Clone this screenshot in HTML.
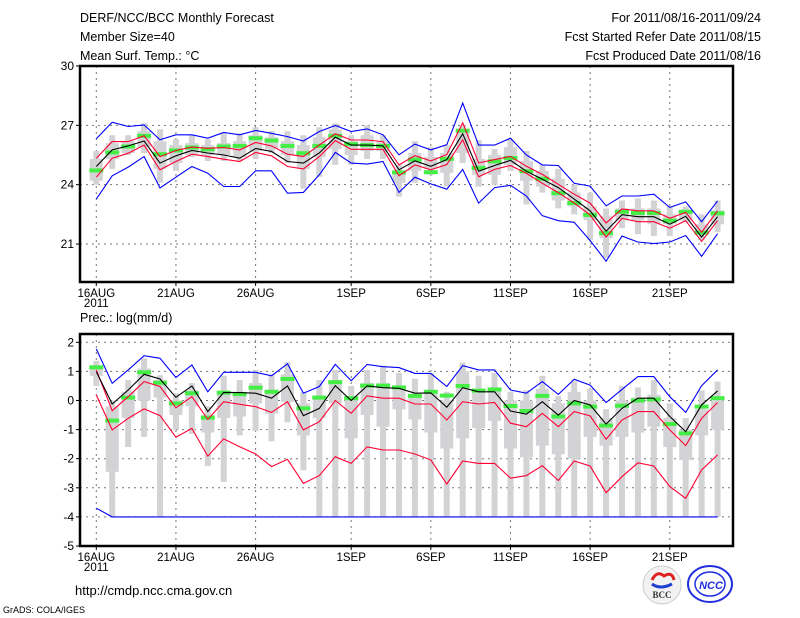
<!DOCTYPE html>
<html><head><meta charset="utf-8"><style>
body{margin:0;background:#fff;}
svg{display:block;font-family:"Liberation Sans",sans-serif;}
</style></head><body>
<svg id="chart" width="800" height="618" viewBox="0 0 800 618">
<g font-size="12.5" fill="#000">
<text x="80" y="22">DERF/NCC/BCC Monthly Forecast</text>
<text x="80" y="41">Member Size=40</text>
<text x="80" y="60">Mean Surf. Temp.: °C</text>
<text x="761" y="22" text-anchor="end">For 2011/08/16-2011/09/24</text>
<text x="761" y="41" text-anchor="end">Fcst Started Refer Date 2011/08/15</text>
<text x="761" y="60" text-anchor="end">Fcst Produced Date 2011/08/16</text>
<text x="80" y="322">Prec.: log(mm/d)</text>
<text x="75" y="595" font-size="13">http://cmdp.ncc.cma.gov.cn</text>
<text x="3" y="613" font-size="9">GrADS: COLA/IGES</text>
</g>
<g id="logos">
<circle cx="662" cy="585" r="19" fill="#f2f2f2" stroke="#ccc"/>
<path d="M652 580 q5 -10 12 -4 q8 -5 10 4" stroke="#e02020" stroke-width="3" fill="none"/>
<path d="M652 584 q8 6 20 0" stroke="#2040d0" stroke-width="3" fill="none"/>
<text x="662" y="598" font-size="9" font-weight="bold" text-anchor="middle" fill="#333" font-family="Liberation Serif,serif">BCC</text>
<ellipse cx="710" cy="584" rx="22" ry="18" fill="#fff" stroke="#2030e0" stroke-width="2"/>
<ellipse cx="710" cy="584" rx="15" ry="12" fill="none" stroke="#2030e0" stroke-width="1.5"/>
<text x="711" y="589" font-size="11" font-weight="bold" text-anchor="middle" fill="#2030e0" font-style="italic">NCC</text>
</g>
</svg>
<script>
const days=["16AUG","21AUG","26AUG","1SEP","6SEP","11SEP","16SEP","21SEP"];
const dayIdx=[0,5,10,16,21,26,31,36];
const tTicks=[30,27,24,21];
const pTicks=[2,1,0,-1,-2,-3,-4,-5];
// temperature series
const tMean=[24.92,25.76,25.96,26.21,25.09,25.46,25.73,25.6,25.5,25.34,25.83,25.68,25.17,25.09,25.6,26.4,26.0,26.0,25.96,24.75,25.2,24.93,25.27,26.57,24.68,24.97,25.23,24.68,24.27,23.85,23.27,22.68,21.65,22.48,22.38,22.38,22.0,22.4,21.35,22.38];
const tRedHi=[25.34,26.18,26.18,26.47,25.42,25.73,25.9,25.84,25.88,25.76,26.13,25.96,25.54,25.42,26.0,26.57,26.26,26.26,26.18,25.0,25.47,25.2,25.52,27.13,25.1,25.27,25.43,24.93,24.52,24.02,23.52,23.07,22.07,22.77,22.68,22.68,22.3,22.6,21.6,22.68];
const tRedLo=[24.38,25.34,25.59,26.0,24.75,25.17,25.54,25.42,25.29,25.17,25.63,25.46,24.92,24.8,25.42,26.23,25.79,25.79,25.79,24.45,25.0,24.75,25.02,26.27,24.4,24.77,24.97,24.57,24.07,23.6,23.07,22.47,21.35,22.3,22.13,22.13,21.8,22.18,21.13,22.18];
const tMax=[26.32,27.16,26.94,27.02,26.27,26.52,26.52,26.35,26.64,26.52,26.74,26.6,26.43,26.21,26.69,26.99,26.69,26.82,26.52,25.51,26.05,25.76,26.02,28.13,26.0,26.0,26.35,25.5,25.0,24.97,24.07,23.93,22.93,23.43,23.43,23.52,22.85,23.13,22.13,23.18];
const tMin=[23.27,24.45,24.89,25.42,23.83,24.38,24.92,24.58,23.91,23.91,24.7,24.7,23.57,23.61,24.5,25.63,25.09,25.04,25.17,23.61,24.38,24.04,23.77,24.77,23.07,23.85,23.97,23.43,22.43,22.18,22.1,21.18,20.13,21.4,21.1,21.02,21.1,21.43,20.38,21.52];
const tObs=[24.72,25.63,25.93,26.47,25.54,25.73,25.88,25.79,25.93,25.96,26.35,26.23,25.96,25.59,25.96,26.47,26.05,26.0,25.96,24.62,25.27,24.63,25.3,26.73,24.85,25.18,25.35,24.68,24.3,23.57,23.07,22.47,21.55,22.63,22.57,22.57,22.18,22.63,21.57,22.55];
const tWhiskHi=[25.7,26.5,26.5,27.1,26.8,26.3,26.5,26.3,26.6,26.6,26.9,26.7,26.7,26.5,26.9,27.1,26.5,27.0,26.5,25.0,26.2,25.9,26.0,27.0,26.25,25.8,26.3,25.7,25.0,24.8,24.0,23.6,22.8,23.2,23.3,23.2,22.9,22.9,22.5,23.2];
const tWhiskLo=[24.0,24.8,25.5,25.6,24.1,24.7,25.4,25.2,25.2,25.2,25.3,25.6,25.1,23.8,24.4,25.0,25.0,25.3,25.3,23.4,24.1,24.5,23.9,25.1,23.9,24.0,24.7,23.0,23.6,22.8,22.5,21.2,20.3,21.8,21.5,21.4,21.4,22.1,21.2,21.6];
const tBoxHi=[25.3,26.1,26.2,26.7,26.2,26.0,26.1,26.0,26.1,26.2,26.5,26.4,26.2,26.0,26.4,26.8,26.2,26.5,26.2,24.7,25.6,25.4,25.6,26.8,25.3,25.5,25.9,25.2,24.7,24.3,23.6,22.9,22.4,22.8,22.8,22.8,22.5,22.7,22.0,22.7];
const tBoxLo=[24.2,25.3,25.6,25.9,24.8,25.1,25.5,25.5,25.5,25.4,25.7,25.8,25.5,24.8,25.4,25.8,25.5,25.7,25.7,24.1,24.7,24.8,24.6,25.6,24.5,24.5,25.0,24.2,23.9,23.2,22.9,22.2,21.3,22.2,22.2,22.0,22.0,22.2,21.5,22.0];
// precipitation series
const pMean=[0.99,-0.12,0.36,0.9,0.74,0.11,0.5,-0.38,0.28,0.27,0.25,0.08,0.5,-0.52,-0.27,0.51,0.0,0.5,0.44,0.42,0.25,0.26,-0.23,0.44,0.3,0.3,-0.36,-0.47,-0.04,-0.5,0.0,-0.15,-0.81,-0.27,0.08,0.08,-0.55,-1.07,-0.15,0.33];
const pRedHi=[1.05,-0.35,0.13,0.65,0.48,-0.25,0.13,-0.65,-0.04,-0.13,-0.21,-0.41,-0.04,-1.01,-0.73,0.0,-0.44,0.16,0.08,0.08,-0.12,-0.12,-0.67,-0.04,-0.12,-0.07,-0.78,-0.9,-0.44,-0.9,-0.38,-0.53,-1.33,-0.67,-0.38,-0.38,-1.01,-1.55,-0.61,-0.07];
const pRedLo=[0.19,-1.01,-0.61,-0.29,-0.52,-1.26,-0.96,-1.91,-1.32,-1.59,-1.84,-2.27,-2.02,-2.85,-2.58,-1.93,-2.16,-1.59,-1.7,-1.7,-1.84,-2.04,-2.87,-2.08,-2.16,-2.16,-2.67,-2.58,-2.24,-2.75,-2.08,-2.25,-3.17,-2.62,-2.14,-2.25,-2.96,-3.36,-2.39,-1.87];
const pMax=[1.77,0.59,1.05,1.54,1.45,0.79,1.22,0.3,0.97,0.97,0.97,0.85,1.26,0.25,0.48,1.24,0.68,1.24,1.16,1.13,0.93,0.93,0.48,1.2,1.05,1.05,0.36,0.25,0.65,0.21,0.73,0.53,-0.07,0.38,0.82,0.82,0.13,-0.41,0.51,1.05];
const pMin=[-3.7,-4,-4,-4,-4,-4,-4,-4,-4,-4,-4,-4,-4,-4,-4,-4,-4,-4,-4,-4,-4,-4,-4,-4,-4,-4,-4,-4,-4,-4,-4,-4,-4,-4,-4,-4,-4,-4,-4,-4];
const pObs=[1.14,-0.69,0.1,0.97,0.61,-0.1,0.25,-0.59,0.27,0.22,0.44,0.3,0.74,-0.27,0.1,0.63,0.08,0.51,0.51,0.45,0.16,0.3,0.17,0.5,0.34,0.38,-0.19,-0.36,0.16,-0.55,-0.1,-0.21,-0.86,-0.18,0.0,0.04,-0.81,-1.13,-0.21,0.08];
const pWhiskHi=[1.36,0.0,0.7,1.45,0.87,0.25,0.6,-0.2,0.85,0.7,1.05,0.9,1.32,0.3,0.7,1.05,0.5,1.05,1.2,0.95,0.75,0.95,0.3,1.3,0.85,0.95,0.3,0.35,0.85,0.15,0.65,0.4,-0.3,0.5,0.45,0.7,-0.1,-0.6,0.35,0.65];
const pWhiskLo=[0.5,-4,-1.6,-1.25,-4,-1.0,-1.15,-2.25,-2.8,-1.2,-1.05,-1.4,-0.75,-2.4,-4,-4,-4,-4,-4,-4,-4,-4,-4,-4,-4,-4,-4,-4,-4,-4,-4,-4,-4,-4,-4,-4,-4,-4,-4,-4];
const pBoxHi=[1.2,-0.2,0.3,1.1,0.7,0.0,0.35,-0.5,0.3,0.3,0.6,0.35,0.9,-0.1,0.1,0.7,0.1,0.6,0.6,0.5,0.2,0.3,0.0,1.0,0.4,0.45,0.0,0.0,0.4,-0.1,0.3,0.0,-0.6,0.0,0.1,0.2,-0.6,-1.0,-0.3,0.0];
const pBoxLo=[0.85,-2.45,-0.6,0.0,0.1,-0.5,-0.2,-1.1,-0.6,-0.55,-0.1,-0.45,-0.05,-1.2,-0.6,-0.1,-1.3,-0.5,-0.9,-0.3,-0.65,-1.1,-1.65,-1.3,-0.95,-0.7,-1.65,-1.95,-1.55,-1.85,-2.0,-1.25,-1.55,-1.25,-1.1,-0.9,-1.6,-2.05,-1.2,-1.0];

const NS='http://www.w3.org/2000/svg';
const svg=document.getElementById('chart');
const X0=96.3, DX=15.93, LEFT=80, RIGHT=733;
function xs(d){return X0+d*DX;}
function mk(tag,attrs,parent){const e=document.createElementNS(NS,tag);for(const k in attrs)e.setAttribute(k,attrs[k]);(parent||svg).appendChild(e);return e;}

function panel(cfg){
  const g=mk('g',{});
  
  
  const ys=cfg.ys;
  // grid
  cfg.ticks.forEach(v=>{
    if(v===cfg.top||v===cfg.bot) return;
    const l=mk('line',{x1:LEFT,x2:RIGHT,y1:ys(v),y2:ys(v),stroke:'#777','stroke-dasharray':'2,4','stroke-width':1},g);
    
    
  });
  dayIdx.forEach(d=>{
    const l=mk('line',{x1:xs(d),x2:xs(d),y1:cfg.yTop,y2:cfg.yBot,stroke:'#777','stroke-dasharray':'2,4','stroke-width':1},g);
    
    
  });
  // gray bars
  for(let i=0;i<cfg.wHi.length;i++){
    const x=xs(i);
    const w=mk('rect',{x:x-3,y:ys(cfg.wHi[i]),width:6,height:ys(cfg.wLo[i])-ys(cfg.wHi[i]),fill:'#d3d3d6'},g);
    
    
    const b=mk('rect',{x:x-6.5,y:ys(cfg.bHi[i]),width:13,height:ys(cfg.bLo[i])-ys(cfg.bHi[i]),fill:'#d3d3d6'},g);
    
    
  }
  // observed dashes
  cfg.obs.forEach((v,i)=>{
    const r=mk('rect',{x:xs(i)-7,y:ys(v)-2,width:14,height:4,fill:'#44ee44'},g);
    
    
  });
  function line(arr,color,name){
    const p=mk('polyline',{points:arr.map((v,i)=>xs(i).toFixed(1)+','+ys(v).toFixed(1)).join(' '),fill:'none',stroke:color,'stroke-width':1.1},g);
    
    
  }
  line(cfg.max,'#0000ff','max-line');
  line(cfg.min,'#0000ff','min-line');
  line(cfg.rhi,'#ff0033','upper-red-line');
  line(cfg.rlo,'#ff0033','lower-red-line');
  line(cfg.mean,'#000','ensemble-mean-line');
  // frame
  const f=mk('rect',{x:LEFT,y:cfg.yTop,width:RIGHT-LEFT,height:cfg.yBot-cfg.yTop,fill:'none',stroke:'#000','stroke-width':2.5},g);
  
  
  // y ticks
  cfg.ticks.forEach(v=>{
    mk('line',{x1:LEFT-4,x2:LEFT,y1:ys(v),y2:ys(v),stroke:'#000'},g);
    const t=mk('text',{x:LEFT-6,y:ys(v)+4,'font-size':12,'text-anchor':'end'},g);
    t.textContent=v;
    
    
  });
  // x ticks
  dayIdx.forEach((d,k)=>{
    mk('line',{x1:xs(d),x2:xs(d),y1:cfg.yBot,y2:cfg.yBot+4,stroke:'#000'},g);
    const t=mk('text',{x:xs(d),y:cfg.yBot+15,'font-size':11.5,'text-anchor':'middle'},g);
    t.textContent=days[k];
    
    
  });
  const yr=mk('text',{x:xs(0),y:cfg.yBot+25,'font-size':11.5,'text-anchor':'middle'},g);
  yr.textContent='2011';
  
  
}

panel({name:'temperature-panel',ys:v=>66+(30-v)*19.78,yTop:66,yBot:282,top:30,bot:19,ticks:tTicks,
  wHi:tWhiskHi,wLo:tWhiskLo,bHi:tBoxHi,bLo:tBoxLo,obs:tObs,max:tMax,min:tMin,rhi:tRedHi,rlo:tRedLo,mean:tMean});
panel({name:'precipitation-panel',ys:v=>342.3+(2-v)*29.1,yTop:334,yBot:546,top:2.3,bot:-5,ticks:pTicks,
  wHi:pWhiskHi,wLo:pWhiskLo,bHi:pBoxHi,bLo:pBoxLo,obs:pObs,max:pMax,min:pMin,rhi:pRedHi,rlo:pRedLo,mean:pMean});
svg.appendChild(document.getElementById('logos'));
</script>
</body></html>
